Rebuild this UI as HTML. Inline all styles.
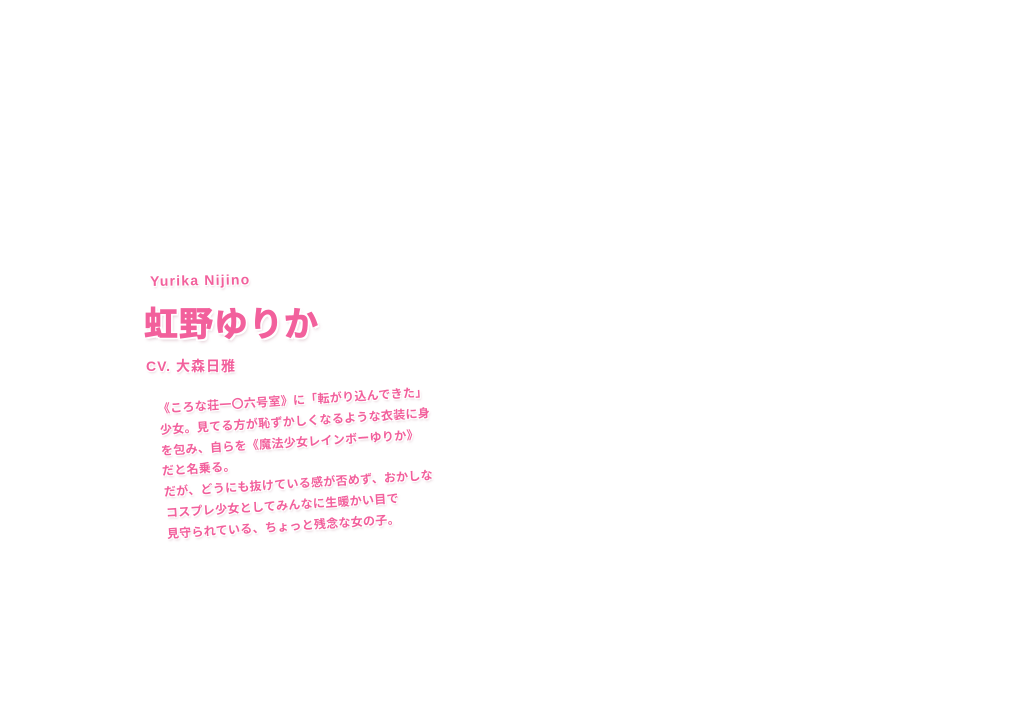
<!DOCTYPE html>
<html><head><meta charset="utf-8"><style>
html,body{margin:0;padding:0;background:#fff;width:1020px;height:720px;overflow:hidden;}
.t{position:absolute;white-space:nowrap;color:#f2609c;font-family:"Liberation Sans","Noto Sans CJK JP",sans-serif;font-weight:bold;
text-shadow:0 0 2px #fff,1px 1px 0 #fff,-1px -1px 0 #fff,1px -1px 0 #fff,-1px 1px 0 #fff,1px 2px 2px rgba(180,120,140,.35);transform-origin:0 50%;}
.p{font-size:12px;letter-spacing:0.3px;line-height:21px;}
</style></head><body>
<div class="t" style="left:150px;top:273px;font-size:14px;letter-spacing:1.2px;transform:rotate(-1deg)">Yurika Nijino</div>
<div class="t" style="left:144px;top:297px;font-size:34px;letter-spacing:1px;-webkit-text-stroke:0.8px #f2609c;text-shadow:0 0 3px #fff,2px 2px 0 #fff,-2px -2px 0 #fff,2px -2px 0 #fff,-2px 2px 0 #fff,2px 3px 3px rgba(180,120,140,.4)">虹野ゆりか</div>
<div class="t" style="left:146px;top:356px;font-size:14px;letter-spacing:1px">CV. 大森日雅</div>
<div class="t p" style="left:158px;top:399px;transform:rotate(-3.6deg)">《ころな荘一〇六号室》に「転がり込んできた」</div>
<div class="t p" style="left:160px;top:420px;transform:rotate(-3.6deg)">少女。見てる方が恥ずかしくなるような衣装に身</div>
<div class="t p" style="left:161px;top:441px;transform:rotate(-3.6deg)">を包み、自らを《魔法少女レインボーゆりか》</div>
<div class="t p" style="left:162px;top:461px;transform:rotate(-3.6deg)">だと名乗る。</div>
<div class="t p" style="left:164px;top:482px;transform:rotate(-3.6deg)">だが、どうにも抜けている感が否めず、おかしな</div>
<div class="t p" style="left:166px;top:503px;transform:rotate(-3.6deg)">コスプレ少女としてみんなに生暖かい目で</div>
<div class="t p" style="left:167px;top:524px;transform:rotate(-3.6deg)">見守られている、ちょっと残念な女の子。</div>
</body></html>
